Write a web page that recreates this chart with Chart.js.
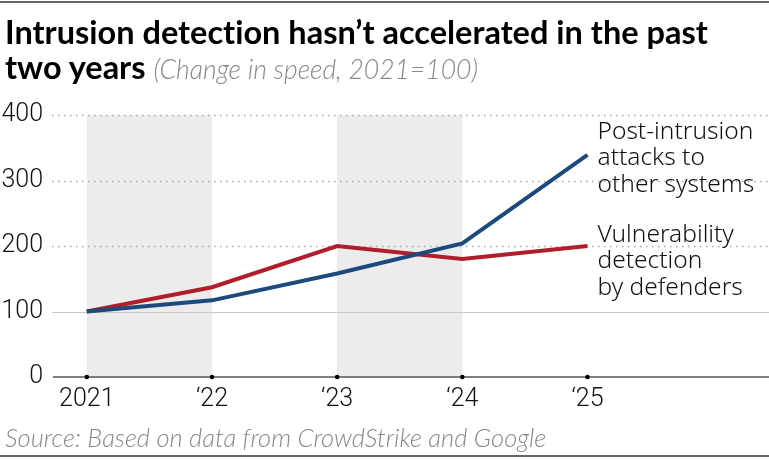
<!DOCTYPE html>
<html>
<head>
<meta charset="utf-8">
<script src="https://cdn.jsdelivr.net/npm/chart.js@4.4.1/dist/chart.umd.min.js"></script>
<style>
  html, body { margin: 0; padding: 0; background: #fff; }
  #wrap { position: relative; width: 769px; height: 460px; overflow: hidden; }
  #topRule, #bottomRule { position: absolute; left: 0; width: 769px; height: 2px; background: #666; }
  #topRule { top: 1px; }
  #bottomRule { top: 455px; }
  #title { position: absolute; left: 5px; top: 14px; font-family: Lato, sans-serif; font-weight: 700;
           font-size: 32.5px; line-height: 35px; color: #000; white-space: nowrap;
           font-variant-ligatures: none; }
  #title .sub { font-weight: 300; font-style: italic; color: #888; font-size: 26.5px; }
  #source { position: absolute; left: 5px; top: 422px; font-family: Lato, sans-serif; font-weight: 300;
            font-style: italic; font-size: 25.5px; color: #888; white-space: nowrap;
            font-variant-ligatures: none; }
  canvas { position: absolute; left: 0; top: 0; }
</style>
</head>
<body>
<div id="wrap">
  <div id="topRule"></div>
  <canvas id="myChart" width="769" height="460"></canvas>
  <div id="title">Intrusion detection hasn’t accelerated in the past<br>two years <span class="sub">(Change in speed, 2021=100)</span></div>
  <div id="source">Source: Based on data from CrowdStrike and Google</div>
  <div id="bottomRule"></div>
</div>
<script>
// data
const years = [2021, 2022, 2023, 2024, 2025];
const yearLabels = ['2021', '‘22', '‘23', '‘24', '‘25'];
const postIntrusion = [100, 117, 158, 204, 339];
const vulnDetection = [100, 137, 200, 180, 200];
const yTicks = [0, 100, 200, 300, 400];
const shadedSpans = [[2021, 2022], [2023, 2024]];

const blue = '#1c4a7e';
const red = '#b01e2a';

const canvas = document.getElementById('myChart');
const ctx = canvas.getContext('2d');

// ticks in the original are a condensed light face; use one if the browser has it
function pickTickFont() {
  const c = document.createElement('canvas').getContext('2d');
  c.font = "normal 300 28px 'Noto Sans'";
  const plain = c.measureText('2021').width;
  c.font = "normal 300 condensed 28px 'Noto Sans'";
  const narrow = c.measureText('2021').width;
  if (c.font.indexOf('condensed') >= 0 && narrow < plain * 0.92) {
    return { family: "'Noto Sans', sans-serif", weight: '300 condensed', size: 28 };
  }
  return { family: 'Roboto, sans-serif', weight: 300, size: 25 };
}
const tickFont = pickTickFont();

// grey bands, grid lines, axis and end labels
const decorPlugin = {
  id: 'decor',
  beforeDatasetsDraw(chart) {
    const { ctx, chartArea, scales: { x, y } } = chart;
    ctx.save();
    ctx.fillStyle = '#ececec';
    shadedSpans.forEach(([a, b]) => {
      ctx.fillRect(x.getPixelForValue(a), y.getPixelForValue(400),
        x.getPixelForValue(b) - x.getPixelForValue(a), y.getPixelForValue(0) - y.getPixelForValue(400));
    });

    yTicks.forEach(v => {
      if (v === 0) return;
      const py = Math.round(y.getPixelForValue(v)) + 0.5;
      ctx.beginPath();
      if (v === 100) {
        ctx.setLineDash([]);
        ctx.strokeStyle = '#c8c8c8';
        ctx.lineWidth = 1;
      } else {
        ctx.setLineDash([1.5, 4.5]);
        ctx.strokeStyle = '#a8a8a8';
        ctx.lineWidth = 1.3;
      }
      ctx.moveTo(chartArea.left - 1, py);
      ctx.lineTo(chartArea.right, py);
      ctx.stroke();
    });
    ctx.setLineDash([]);

    // zero axis with year dots
    const py0 = y.getPixelForValue(0);
    ctx.beginPath();
    ctx.strokeStyle = '#555';
    ctx.lineWidth = 1.5;
    ctx.moveTo(chartArea.left, py0);
    ctx.lineTo(chartArea.right, py0);
    ctx.stroke();

    ctx.fillStyle = '#000';
    years.forEach(yr => {
      ctx.beginPath();
      ctx.arc(x.getPixelForValue(yr), py0, 2.3, 0, Math.PI * 2);
      ctx.fill();
    });
    ctx.restore();
  },
  afterDatasetsDraw(chart) {
    const { ctx } = chart;
    ctx.save();
    ctx.font = "300 24.5px 'Noto Sans', sans-serif";
    ctx.fillStyle = '#111';
    ctx.textBaseline = 'middle';
    chart.data.datasets.forEach((ds, i) => {
      const meta = chart.getDatasetMeta(i);
      const last = meta.data[meta.data.length - 1];
      ds.endLabel.forEach((line, j) => {
        ctx.fillText(line, last.x + 10, last.y + ds.labelShift + j * 26.5);
      });
    });
    ctx.restore();
  }
};

const chart = new Chart(ctx, {
  type: 'line',
  data: {
    datasets: [
      {
        label: 'Post-intrusion attacks to other systems',
        endLabel: ['Post-intrusion', 'attacks to', 'other systems'],
        labelShift: -23,
        data: years.map((yr, i) => ({ x: yr, y: postIntrusion[i] })),
        borderColor: blue,
        borderWidth: 4,
        pointRadius: 0,
        tension: 0
      },
      {
        label: 'Vulnerability detection by defenders',
        endLabel: ['Vulnerability', 'detection', 'by defenders'],
        labelShift: -11,
        data: years.map((yr, i) => ({ x: yr, y: vulnDetection[i] })),
        borderColor: red,
        borderWidth: 4,
        pointRadius: 0,
        tension: 0
      }
    ]
  },
  plugins: [decorPlugin],
  options: {
    responsive: false,
    animation: false,
    layout: { padding: { top: 115, right: 0, bottom: 0, left: 0 } },
    plugins: { legend: { display: false }, tooltip: { enabled: false } },
    scales: {
      x: {
        type: 'linear',
        min: 2020.73,
        max: 2026.45,
        grid: { display: false, drawTicks: false },
        border: { display: false },
        afterBuildTicks: (scale) => { scale.ticks = years.map(v => ({ value: v })); },
        afterFit: (scale) => { scale.height = 83; },
        ticks: {
          padding: 8,
          maxRotation: 0,
          autoSkip: false,
          color: '#111',
          font: tickFont,
          callback: (v) => yearLabels[years.indexOf(v)]
        }
      },
      y: {
        min: 0,
        max: 400,
        grid: { display: false, drawTicks: false },
        border: { display: false },
        afterBuildTicks: (scale) => { scale.ticks = yTicks.map(v => ({ value: v })); },
        afterFit: (scale) => { scale.width = 53; },
        ticks: {
          padding: 10,
          color: '#111',
          font: tickFont
        }
      }
    }
  }
});
</script>
</body>
</html>
